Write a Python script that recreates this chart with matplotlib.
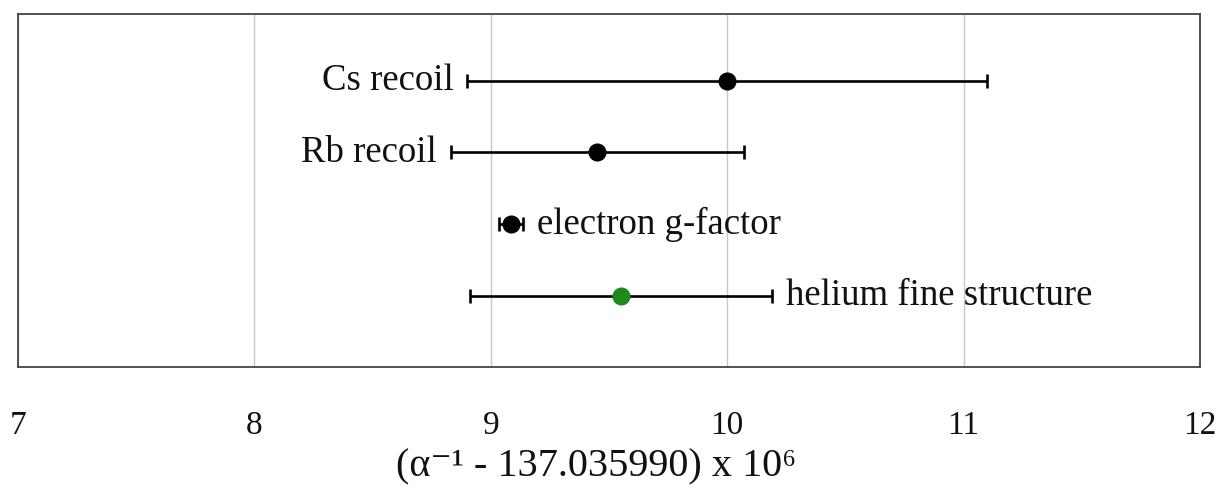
import numpy as np
import matplotlib
matplotlib.use("Agg")
import matplotlib.pyplot as plt

# alpha^-1 determinations, in units of 1e-6 above 137.035990
methods = ['Cs recoil', 'Rb recoil', 'electron g-factor', 'helium fine structure']
values = [10.0, 9.45, 9.084, 9.55]
errors = [1.1, 0.62, 0.051, 0.64]
rows = [4, 3, 2, 1]
label_side = ['left', 'left', 'right', 'right']
colors = ['black', 'black', 'black', '#1d8a1d']
ticks = [7, 8, 9, 10, 11, 12]

plt.rcParams['font.family'] = ['Liberation Serif', 'DejaVu Serif']

fig = plt.figure(figsize=(12.25, 4.93), dpi=100)
ax = fig.add_axes([0.0147, 0.2556, 0.9649, 0.716])

for name, v, e, y, side, c in zip(methods, values, errors, rows, label_side, colors):
    ax.errorbar(v, y, xerr=e, fmt='o', color='black', mfc=c, mec=c,
                markersize=12, elinewidth=1.9, capsize=5, capthick=1.9,
                zorder=3)
    if side == 'left':
        ax.annotate(name, xy=(v - e, y), xytext=(-10, 0), textcoords='offset points',
                    ha='right', va='center', fontsize=26.5, color='#111111')
    else:
        ax.annotate(name, xy=(v + e, y), xytext=(10, 0), textcoords='offset points',
                    ha='left', va='center', fontsize=26.5, color='#111111')

ax.set_xlim(7, 12)
ax.set_ylim(0.01, 4.93)
ax.set_xticks(ticks)
ax.set_yticks([])
ax.grid(axis='x', color='#c8c8c8', linewidth=1.0)
ax.set_axisbelow(True)
ax.tick_params(axis='x', length=0, pad=31, labelsize=24, labelcolor='#111111')
for s in ax.spines.values():
    s.set_color('#444444')
    s.set_linewidth(1.3)

ax.set_xlabel('(α⁻¹ - 137.035990) x 10⁶', fontsize=29,
              color='#111111', labelpad=6)
ax.xaxis.label.set_x(0.489)

fig.savefig('out.png', dpi=100)
